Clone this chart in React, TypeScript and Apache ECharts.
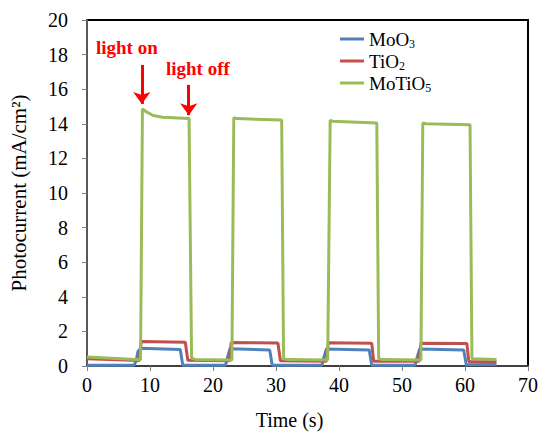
import React, { useEffect, useRef } from "react";
import * as echarts from "echarts";

const seriesNames = ["MoO3", "TiO2", "MoTiO5"];
const seriesColors = ["#4F81BD", "#C0504D", "#9BBB59"];

// [time (s), photocurrent (mA/cm2)]
const moo3Data: [number, number][] = [
  [0, 0.05], [7.5, 0.05], [7.8, 0.3], [8.1, 0.85], [8.5, 1.02], [14.8, 0.95], [15.2, 0.05],
  [22.0, 0.05], [22.3, 0.5], [22.7, 1.0], [29.0, 0.93], [29.4, 0.05],
  [37.3, 0.05], [37.6, 0.5], [38.0, 0.98], [44.8, 0.93], [45.2, 0.05],
  [52.1, 0.05], [52.4, 0.5], [52.8, 0.98], [59.8, 0.93], [60.2, 0.07], [65, 0.08],
];
const tio2Data: [number, number][] = [
  [0, 0.42], [8.3, 0.32], [8.6, 1.42], [15.6, 1.38], [16.0, 0.33],
  [22.6, 0.3], [22.9, 1.36], [30.3, 1.33], [30.7, 0.3],
  [38.0, 0.28], [38.3, 1.34], [45.2, 1.31], [45.5, 0.28],
  [52.7, 0.27], [53.0, 1.32], [60.3, 1.3], [60.6, 0.26], [65, 0.25],
];
const motio5Data: [number, number][] = [
  [0, 0.52], [8.5, 0.36], [8.8, 14.85], [9.3, 14.72], [10.5, 14.48], [12, 14.38], [16.2, 14.3], [16.6, 0.45],
  [17.2, 0.38], [23.0, 0.35], [23.3, 14.35], [23.8, 14.3], [30.9, 14.22], [31.2, 0.42],
  [31.8, 0.37], [38.2, 0.35], [38.6, 14.2], [39.0, 14.15], [46.0, 14.05], [46.3, 0.42],
  [46.9, 0.37], [53.0, 0.35], [53.3, 14.05], [53.8, 14.0], [60.8, 13.95], [61.1, 0.42], [65, 0.38],
];
const seriesData = [moo3Data, tio2Data, motio5Data];

// annotation arrows: [x, yStart, yEnd]
const lightOnArrow = [8.7, 17.4, 15.15];
const lightOffArrow = [16.15, 16.25, 14.5];

const legendRich: Record<string, string> = {
  MoO3: "{a|MoO}{s|3}",
  TiO2: "{a|TiO}{s|2}",
  MoTiO5: "{a|MoTiO}{s|5}",
};

const FONT = "'Liberation Serif', 'Times New Roman', serif";

export default function App() {
  const ref = useRef<HTMLDivElement>(null);
  useEffect(() => {
    if (!ref.current) return;
    const chart = echarts.init(ref.current, undefined, { renderer: "svg" });
    const arrowLine = (a: number[]) => [
      { coord: [a[0], a[1]], symbol: "none" },
      { coord: [a[0], a[2]], symbol: "arrow", symbolSize: [13, 12] },
    ];
    chart.setOption({
      animation: false,
      backgroundColor: "#fff",
      textStyle: { fontFamily: FONT },
      grid: {
        left: 85, right: 18, top: 20, bottom: 70,
        show: true, borderColor: "#000", borderWidth: 2, containLabel: false,
      },
      legend: {
        orient: "vertical",
        left: 335,
        top: 23,
        itemGap: 0,
        itemWidth: 24,
        itemHeight: 3,
        icon: "rect",
        data: seriesNames,
        formatter: (n: string) => legendRich[n] || n,
        textStyle: {
          fontFamily: FONT,
          color: "#000",
          rich: {
            a: { fontFamily: FONT, fontSize: 19, color: "#000", lineHeight: 21 },
            s: { fontFamily: FONT, fontSize: 12, color: "#000", padding: [10, 0, 0, 0], lineHeight: 21 },
          },
        },
      },
      xAxis: {
        type: "value",
        min: 0, max: 70, interval: 10,
        name: "Time (s)",
        nameLocation: "middle",
        nameGap: 44,
        nameTextStyle: { fontFamily: FONT, fontSize: 20, color: "#000", padding: [0, 36, 0, 0] },
        axisLine: { lineStyle: { color: "#404040", width: 2 } },
        axisTick: { show: true, inside: false, length: 5, lineStyle: { color: "#808080" } },
        axisLabel: { fontFamily: FONT, fontSize: 20, color: "#000", margin: 9 },
        splitLine: { show: false },
      },
      yAxis: {
        type: "value",
        min: 0, max: 20, interval: 2,
        name: "Photocurrent (mA/cm²)",
        nameLocation: "middle",
        nameGap: 58,
        nameRotate: 90,
        nameTextStyle: { fontFamily: FONT, fontSize: 21, color: "#000" },
        axisLine: { show: true, lineStyle: { color: "#595959", width: 2 } },
        axisTick: { show: true, inside: false, length: 5, lineStyle: { color: "#808080" } },
        axisLabel: { fontFamily: FONT, fontSize: 20, color: "#000", margin: 19 },
        splitLine: { show: false },
      },
      graphic: [
        {
          type: "text", left: 96, top: 38,
          style: { text: "light on", fill: "#FF0000", font: `bold 19px ${FONT}` },
        },
        {
          type: "text", left: 166, top: 59,
          style: { text: "light off", fill: "#FF0000", font: `bold 19px ${FONT}` },
        },
      ],
      series: seriesNames.map((name, i) => ({
        name,
        type: "line",
        data: seriesData[i],
        showSymbol: false,
        symbol: "none",
        color: seriesColors[i],
        lineStyle: { width: 3, color: seriesColors[i] },
        z: 2 + i,
        markLine: i === 2 ? {
          silent: true,
          animation: false,
          label: { show: false },
          lineStyle: { color: "#FF0000", width: 3, type: "solid" },
          data: [arrowLine(lightOnArrow), arrowLine(lightOffArrow)],
        } : undefined,
      })),
    });
    return () => chart.dispose();
  }, []);
  return (
    <div
      ref={ref}
      style={{ position: "fixed", left: 0, top: 0, width: 546, height: 436, background: "#fff" }}
    />
  );
}
